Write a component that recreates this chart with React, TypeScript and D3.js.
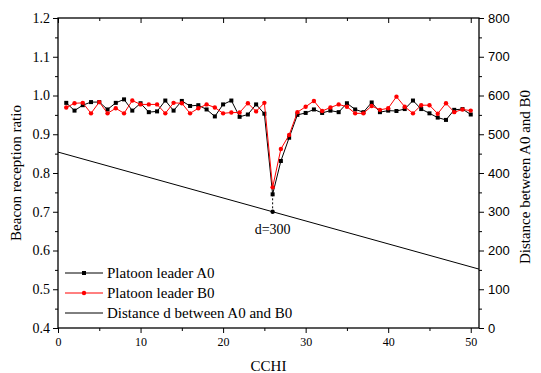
import { useEffect, useRef } from "react";
import * as d3 from "d3";

// CCHI index for both platoon leaders
const cchi = d3.range(1, 51);

const leaderA = [
  0.981, 0.961, 0.975, 0.983, 0.983, 0.964, 0.981, 0.99, 0.961, 0.98,
  0.957, 0.959, 0.987, 0.961, 0.986, 0.973, 0.975, 0.964, 0.946, 0.977,
  0.987, 0.945, 0.951, 0.977, 0.953, 0.745, 0.831, 0.891, 0.95, 0.955,
  0.964, 0.955, 0.961, 0.957, 0.98, 0.964, 0.957, 0.982, 0.957, 0.961,
  0.96, 0.965, 0.987, 0.965, 0.954, 0.943, 0.937, 0.963, 0.965, 0.951,
];

const leaderB = [
  0.969, 0.98, 0.981, 0.954, 0.983, 0.954, 0.967, 0.954, 0.987, 0.977,
  0.977, 0.977, 0.954, 0.981, 0.98, 0.954, 0.967, 0.977, 0.969, 0.954,
  0.956, 0.956, 0.98, 0.959, 0.981, 0.763, 0.862, 0.898, 0.957, 0.971,
  0.986, 0.96, 0.969, 0.977, 0.971, 0.954, 0.954, 0.973, 0.963, 0.967,
  0.997, 0.971, 0.954, 0.975, 0.975, 0.953, 0.98, 0.957, 0.964, 0.961,
];

// distance d between A0 and B0 (right axis)
const distX = [0, 26, 51];
const distD = [454, 300, 152];

const markX = 26;
const markD = 300;

const legendItems = ["Platoon leader A0", "Platoon leader B0", "Distance d between A0 and B0"];

const W = 541;
const H = 373;
const serif = "'Liberation Serif', 'Times New Roman', serif";
const sans = "'Liberation Sans', Arial, sans-serif";

export default function App() {
  const svgRef = useRef<SVGSVGElement>(null);

  useEffect(() => {
    document.body.style.margin = "0";
    const margin = { top: 18, right: 62, bottom: 45, left: 58 };
    const innerW = W - margin.left - margin.right;
    const innerH = H - margin.top - margin.bottom;

    const svg = d3.select(svgRef.current);
    svg.selectAll("*").remove();
    const g = svg.append("g").attr("transform", `translate(${margin.left},${margin.top})`);

    const x = d3.scaleLinear().domain([0, 51]).range([0, innerW]);
    const y = d3.scaleLinear().domain([0.4, 1.2]).range([innerH, 0]);
    const y2 = d3.scaleLinear().domain([0, 800]).range([innerH, 0]);

    const styleAxis = (sel: any, font: string, size: number) => {
      sel.attr("font-family", null).attr("font-size", null);
      sel.select(".domain").remove();
      sel.selectAll("line").attr("stroke", "#000");
      sel
        .selectAll("text")
        .style("font-family", font)
        .style("font-size", `${size}px`)
        .attr("fill", "#000");
    };

    // minor ticks
    g.append("g")
      .call(d3.axisLeft(y).tickValues(d3.range(0.45, 1.2, 0.1)).tickSize(3).tickFormat(() => ""))
      .call((s) => styleAxis(s, serif, 13));
    g.append("g")
      .attr("transform", `translate(${innerW},0)`)
      .call(d3.axisRight(y2).tickValues(d3.range(50, 800, 100)).tickSize(3).tickFormat(() => ""))
      .call((s) => styleAxis(s, sans, 13));
    g.append("g")
      .attr("transform", `translate(0,${innerH})`)
      .call(d3.axisBottom(x).tickValues(d3.range(5, 51, 10)).tickSize(3).tickFormat(() => ""))
      .call((s) => styleAxis(s, serif, 11));
    g.append("g")
      .call(d3.axisBottom(x).tickValues(d3.range(5, 51, 10)).tickSize(3).tickFormat(() => ""))
      .call((s) => styleAxis(s, serif, 11));

    // major ticks
    g.append("g")
      .call(d3.axisLeft(y).tickValues(d3.range(0.4, 1.21, 0.1)).tickSize(5).tickPadding(3).tickFormat(d3.format(".1f")))
      .call((s) => styleAxis(s, serif, 14));
    g.append("g")
      .attr("transform", `translate(${innerW},0)`)
      .call(d3.axisRight(y2).ticks(8).tickSize(5).tickPadding(4))
      .call((s) => styleAxis(s, sans, 13));
    g.append("g")
      .attr("transform", `translate(0,${innerH})`)
      .call(d3.axisBottom(x).tickValues(d3.range(0, 51, 10)).tickSize(5).tickPadding(4))
      .call((s) => styleAxis(s, serif, 12));
    g.append("g")
      .call(d3.axisBottom(x).tickValues(d3.range(0, 51, 10)).tickSize(5).tickFormat(() => ""))
      .call((s) => styleAxis(s, serif, 11));

    // frame
    g.append("rect")
      .attr("width", innerW)
      .attr("height", innerH)
      .attr("fill", "none")
      .attr("stroke", "#000")
      .attr("stroke-width", 1.3);

    // distance line
    const distLine = d3
      .line<number>()
      .x((_, i) => x(distX[i]))
      .y((d) => y2(d));
    g.append("path").attr("d", distLine(distD)).attr("fill", "none").attr("stroke", "#000").attr("stroke-width", 1);

    const line = d3
      .line<number>()
      .x((_, i) => x(cchi[i]))
      .y((d) => y(d));

    // leader A0 (black squares)
    g.append("path").attr("d", line(leaderA)).attr("fill", "none").attr("stroke", "#000").attr("stroke-width", 1);
    g.selectAll(".ma")
      .data(leaderA)
      .join("rect")
      .attr("x", (_, i) => x(cchi[i]) - 2)
      .attr("y", (d) => y(d) - 2)
      .attr("width", 4)
      .attr("height", 4)
      .attr("fill", "#000");

    // leader B0 (red circles)
    g.append("path").attr("d", line(leaderB)).attr("fill", "none").attr("stroke", "#ff0000").attr("stroke-width", 1);
    g.selectAll(".mb")
      .data(leaderB)
      .join("circle")
      .attr("cx", (_, i) => x(cchi[i]))
      .attr("cy", (d) => y(d))
      .attr("r", 2.2)
      .attr("fill", "#ff0000");

    // d=300 annotation
    const dipA = leaderA[cchi.indexOf(markX)];
    g.append("line")
      .attr("x1", x(markX))
      .attr("x2", x(markX))
      .attr("y1", y(dipA))
      .attr("y2", y2(markD))
      .attr("stroke", "#000")
      .attr("stroke-dasharray", "2,2");
    g.append("circle").attr("cx", x(markX)).attr("cy", y2(markD)).attr("r", 2.2).attr("fill", "#000");
    g.append("text")
      .attr("x", x(markX))
      .attr("y", y2(markD) + 22)
      .attr("text-anchor", "middle")
      .attr("font-family", serif)
      .attr("font-size", 14)
      .text(`d=${markD}`);

    // legend
    const leg = g.append("g").attr("transform", "translate(7,255)");
    legendItems.forEach((label, i) => {
      const row = leg.append("g").attr("transform", `translate(0,${i * 20})`);
      const col = i === 1 ? "#ff0000" : "#000";
      row.append("line").attr("x1", 0).attr("x2", 38).attr("stroke", col).attr("stroke-width", 1);
      if (i === 0) row.append("rect").attr("x", 17).attr("y", -2).attr("width", 4).attr("height", 4).attr("fill", col);
      if (i === 1) row.append("circle").attr("cx", 19).attr("r", 2.2).attr("fill", col);
      row
        .append("text")
        .attr("x", 42)
        .attr("y", 5)
        .attr("font-family", serif)
        .attr("font-size", 15)
        .text(label);
    });

    // axis titles
    svg
      .append("text")
      .attr("transform", `translate(21,${margin.top + innerH / 2}) rotate(-90)`)
      .attr("text-anchor", "middle")
      .attr("font-family", serif)
      .attr("font-size", 15)
      .text("Beacon reception ratio");
    svg
      .append("text")
      .attr("transform", `translate(530,${margin.top + innerH / 2 + 4}) rotate(-90)`)
      .attr("text-anchor", "middle")
      .attr("font-family", serif)
      .attr("font-size", 15)
      .text("Distance between A0 and B0");
    svg
      .append("text")
      .attr("x", margin.left + x(25.5))
      .attr("y", 371)
      .attr("text-anchor", "middle")
      .attr("font-family", serif)
      .attr("font-size", 15)
      .text("CCHI");
  }, []);

  return (
    <svg
      ref={svgRef}
      width={W}
      height={H}
      style={{ display: "block", background: "#fff" }}
      role="img"
      aria-label="Beacon reception ratio chart"
    />
  );
}
